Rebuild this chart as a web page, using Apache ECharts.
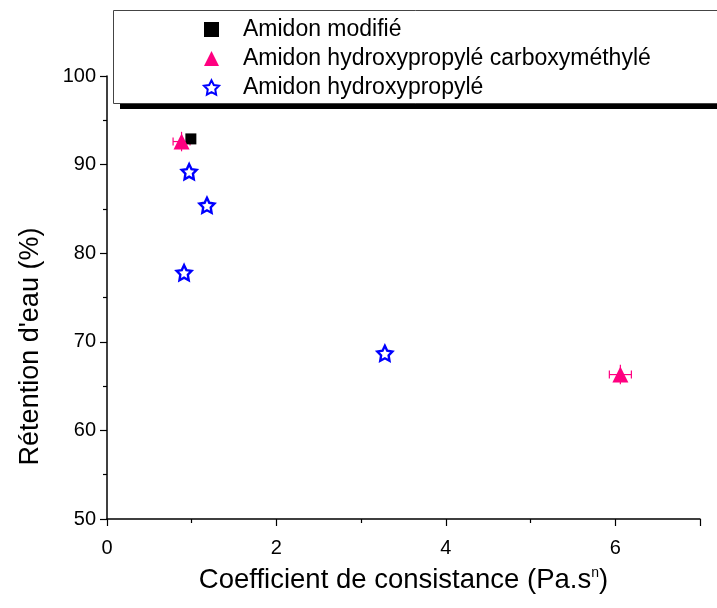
<!DOCTYPE html>
<html>
<head>
<meta charset="utf-8">
<script src="https://cdn.jsdelivr.net/npm/echarts@6/dist/echarts.min.js"></script>
<style>
  html, body { margin: 0; padding: 0; background: #fff; }
  #chart { width: 717px; height: 608px; }
</style>
</head>
<body>
<div id="chart"></div>
<script>
// Water retention vs. consistency coefficient for three starch types
var seriesNames = ['Amidon modifié', 'Amidon hydroxypropylé carboxyméthylé', 'Amidon hydroxypropylé'];

var modX = [0.99];
var modY = [92.9];

var hpcmX = [0.88, 6.06];
var hpcmY = [92.6, 66.3];
var hpcmXErr = [0.1, 0.13];
var hpcmYErr = [1.1, 1.1];

var hpX = [0.97, 1.18, 0.91, 3.28];
var hpY = [89.2, 85.4, 77.8, 68.7];
var hpYErr = [0.6, 0.6, 0.6, 0.6];

var xTicks = [0, 2, 4, 6];
var yTicks = [50, 60, 70, 80, 90, 100];

var PINK = '#FF0080';
var BLUE = '#0000FF';
var STAR = 'path://M50,0 L64.69,29.77 L97.55,34.55 L73.78,57.73 L79.39,90.45 L50,75 L20.61,90.45 L26.22,57.73 L2.45,34.55 L35.31,29.77 Z';
var FONT = '"Liberation Sans", Arial, sans-serif';

function zip(xs, ys) {
  return xs.map(function (x, i) { return [x, ys[i]]; });
}

function errorBars(xs, ys, xe, ye, color) {
  var data = xs.map(function (x, i) {
    return [x, ys[i], xe ? xe[i] : 0, ye ? ye[i] : 0];
  });
  return {
    type: 'custom',
    silent: true,
    z: 1,
    data: data,
    renderItem: function (params, api) {
      var x = api.value(0), y = api.value(1), dx = api.value(2), dy = api.value(3);
      var c = api.coord([x, y]);
      var children = [];
      var style = { stroke: color, lineWidth: 1.2 };
      if (dy > 0) {
        var t = api.coord([x, y + dy]), b = api.coord([x, y - dy]);
        children.push({ type: 'line', shape: { x1: c[0], y1: t[1], x2: c[0], y2: b[1] }, style: style });
      }
      if (dx > 0) {
        var l = api.coord([x - dx, y]), r = api.coord([x + dx, y]);
        children.push({ type: 'line', shape: { x1: l[0], y1: c[1], x2: r[0], y2: c[1] }, style: style });
        children.push({ type: 'line', shape: { x1: l[0], y1: c[1] - 4, x2: l[0], y2: c[1] + 4 }, style: style });
        children.push({ type: 'line', shape: { x1: r[0], y1: c[1] - 4, x2: r[0], y2: c[1] + 4 }, style: style });
      }
      return { type: 'group', children: children };
    }
  };
}

var chart = echarts.init(document.getElementById('chart'));

var axisFont = { fontFamily: FONT, fontSize: 20, color: '#000' };

chart.setOption({
  animation: false,
  backgroundColor: '#fff',
  grid: { left: 107, right: 17, top: 76, bottom: 89 },
  graphic: [
    { type: 'rect', z: 0, shape: { x: 120, y: 103, width: 620, height: 6 }, style: { fill: '#000' } },
    { type: 'rect', z: 1, shape: { x: 113.5, y: 10.5, width: 620, height: 93 }, style: { fill: '#fff', stroke: '#444', lineWidth: 1 } }
  ],
  legend: {
    orient: 'vertical',
    left: 198,
    top: 13,
    itemWidth: 15,
    itemHeight: 15,
    itemGap: 6,
    z: 5,
    data: seriesNames,
    textStyle: { fontFamily: FONT, fontSize: 23, color: '#000', padding: [0, 0, 0, 19] }
  },
  xAxis: {
    type: 'value',
    min: 0,
    max: 7,
    interval: 2,
    name: 'Coefficient de consistance (Pa.s{sup|n})',
    nameLocation: 'middle',
    nameGap: 47,
    nameTextStyle: {
      fontFamily: FONT, fontSize: 27.5, color: '#000',
      rich: { sup: { fontSize: 14, verticalAlign: 'top', padding: [0, 0, 14, 0], color: '#000', fontFamily: FONT } }
    },
    axisLine: { lineStyle: { color: '#000', width: 1.5 } },
    axisTick: { show: true, length: 7, lineStyle: { color: '#000', width: 1.2 } },
    minorTick: { show: true, splitNumber: 2, length: 4, lineStyle: { color: '#000', width: 1.2 } },
    splitLine: { show: false },
    axisLabel: Object.assign({ margin: 19, showMaxLabel: false,
      formatter: function (v) { return xTicks.indexOf(v) >= 0 ? String(v) : ''; } }, axisFont)
  },
  yAxis: {
    type: 'value',
    min: 50,
    max: 100,
    interval: 10,
    name: "Rétention d'eau (%)",
    nameLocation: 'middle',
    nameGap: 63,
    nameTextStyle: { fontFamily: FONT, fontSize: 27, color: '#000', padding: [0, 98, 0, 0] },
    axisLine: { show: true, lineStyle: { color: '#000', width: 1.5 } },
    axisTick: { show: true, length: 7, lineStyle: { color: '#000', width: 1.2 } },
    minorTick: { show: true, splitNumber: 2, length: 4, lineStyle: { color: '#000', width: 1.2 } },
    splitLine: { show: false },
    axisLabel: Object.assign({ margin: 11,
      formatter: function (v) { return yTicks.indexOf(v) >= 0 ? String(v) : ''; } }, axisFont)
  },
  series: [
    errorBars(hpcmX, hpcmY, hpcmXErr, hpcmYErr, PINK),
    errorBars(hpX, hpY, null, hpYErr, BLUE),
    {
      name: seriesNames[0],
      type: 'scatter',
      z: 3,
      symbol: 'rect',
      symbolSize: 11,
      itemStyle: { color: '#000', opacity: 1 },
      data: zip(modX, modY)
    },
    {
      name: seriesNames[1],
      type: 'scatter',
      z: 4,
      symbol: 'triangle',
      symbolSize: 16,
      itemStyle: { color: PINK, opacity: 1 },
      data: zip(hpcmX, hpcmY)
    },
    {
      name: seriesNames[2],
      type: 'scatter',
      z: 4,
      symbol: STAR,
      symbolSize: 15,
      itemStyle: { color: '#fff', borderColor: BLUE, borderWidth: 2.4, opacity: 1 },
      data: zip(hpX, hpY)
    }
  ]
});
</script>
</body>
</html>
